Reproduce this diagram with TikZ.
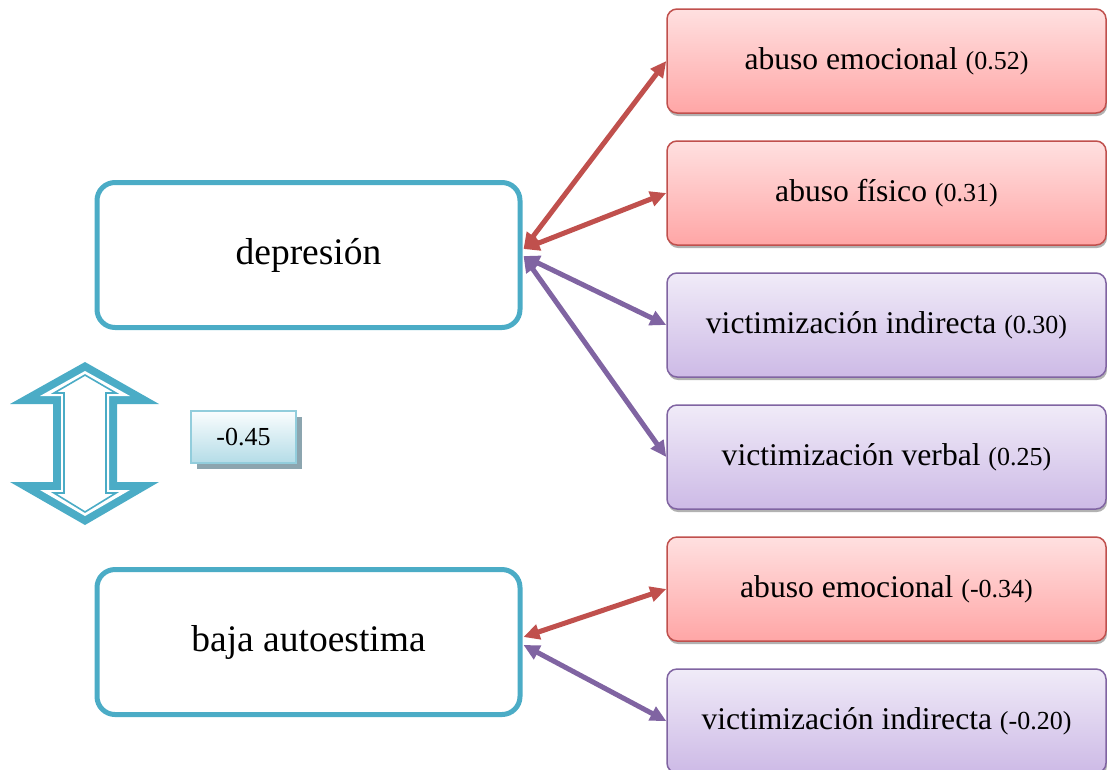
\documentclass[tikz,border=0pt]{standalone}
\usepackage{fontspec}
\setmainfont{Liberation Serif}
\usetikzlibrary{arrows.meta,shadows,calc}
\definecolor{cyanb}{RGB}{75,172,198}
\definecolor{redb}{RGB}{192,80,77}
\definecolor{redtop}{RGB}{255,224,224}
\definecolor{redbot}{RGB}{255,166,166}
\definecolor{purb}{RGB}{128,100,162}
\definecolor{purtop}{RGB}{240,235,248}
\definecolor{purbot}{RGB}{205,186,230}
\definecolor{lbltop}{RGB}{250,253,254}
\definecolor{lblbot}{RGB}{180,220,231}
\definecolor{lblborder}{RGB}{146,205,220}
\definecolor{lblshadow}{RGB}{140,165,175}
\newcommand{\smltxt}[1]{{\fontsize{26}{30}\selectfont #1}}
\tikzset{
  leftbox/.style={draw=cyanb, line width=5pt, fill=white, rounded corners=18pt,
    minimum width=423pt, minimum height=145pt, inner sep=0pt,
    font=\fontsize{37.5}{42}\selectfont},
  rbox/.style={line width=1.5pt, rounded corners=10pt, minimum width=439pt,
    minimum height=104pt, inner sep=0pt, font=\fontsize{31.6}{36}\selectfont,
    drop shadow={shadow xshift=1pt, shadow yshift=-3pt, opacity=0.3, fill=black}},
  redbox/.style={rbox, draw=redb, top color=redtop, bottom color=redbot},
  purbox/.style={rbox, draw=purb, top color=purtop, bottom color=purbot},
  lblbox/.style={draw=lblborder, line width=2pt, top color=lbltop, bottom color=lblbot,
    minimum width=105pt, minimum height=52pt, inner sep=0pt,
    font=\fontsize{26}{30}\selectfont,
    drop shadow={shadow xshift=6pt, shadow yshift=-6pt, opacity=1, fill=lblshadow}},
  tipshape/.style={Triangle[length=16pt,width=15pt]},
  redarr/.style={draw=redb, line width=5pt, {Triangle[length=16pt,width=15pt]}-{Triangle[length=16pt,width=15pt]}},
  purarr/.style={draw=purb, line width=5pt, {Triangle[length=16pt,width=15pt]}-{Triangle[length=16pt,width=15pt]}},
}
\begin{document}
\begin{tikzpicture}[x=1pt,y=-1pt]
\useasboundingbox (0,0) rectangle (1107,769);
\clip (0,0) rectangle (1107,769);

% left boxes
\node[leftbox] (dep) at (308.5,255) {depresión};
\node[leftbox] (baja) at (308.5,642) {baja autoestima};

% right boxes
\node[redbox] (r1) at (886.5,61) {abuso emocional \smltxt{(0.52)}};
\node[redbox] (r2) at (886.5,193) {abuso físico \smltxt{(0.31)}};
\node[purbox] (p3) at (886.5,325) {victimización indirecta \smltxt{(0.30)}};
\node[purbox] (p4) at (886.5,457) {victimización verbal \smltxt{(0.25)}};
\node[redbox] (r5) at (886.5,589) {abuso emocional \smltxt{(-0.34)}};
\node[purbox] (p6) at (886.5,721) {victimización indirecta \smltxt{(-0.20)}};

% connectors
\coordinate (dr) at ($(dep.east)+(1,-6)$);
\coordinate (dp) at ($(dep.east)+(1,1)$);
\coordinate (br) at ($(baja.east)+(1,-5)$);
\coordinate (bp) at ($(baja.east)+(1,3)$);
\draw[redarr] (dr) -- (r1.west);
\draw[redarr] (dr) -- (r2.west);
\draw[purarr] (dp) -- (p3.west);
\draw[purarr] (dp) -- (p4.west);
\draw[redarr] (br) -- (r5.west);
\draw[purarr] (bp) -- (p6.west);

% double arrow
\fill[cyanb] (85,362) -- (159,404) -- (117,404) -- (117,482) -- (159,482) -- (85,525)
  -- (10,482) -- (53,482) -- (53,404) -- (10,404) -- cycle;
\fill[white] (85,371) -- (130,396) -- (109,396) -- (109,490) -- (130,490) -- (85,516)
  -- (40,490) -- (61,490) -- (61,396) -- (40,396) -- cycle;
\draw[cyanb, line width=1.6pt] (85,375) -- (116,393) -- (106,393) -- (106,493) -- (116,493) -- (85,512)
  -- (54,493) -- (64,493) -- (64,393) -- (54,393) -- cycle;

% label
\node[lblbox] (lbl) at (243.5,437) {-0.45};
\end{tikzpicture}
\end{document}
